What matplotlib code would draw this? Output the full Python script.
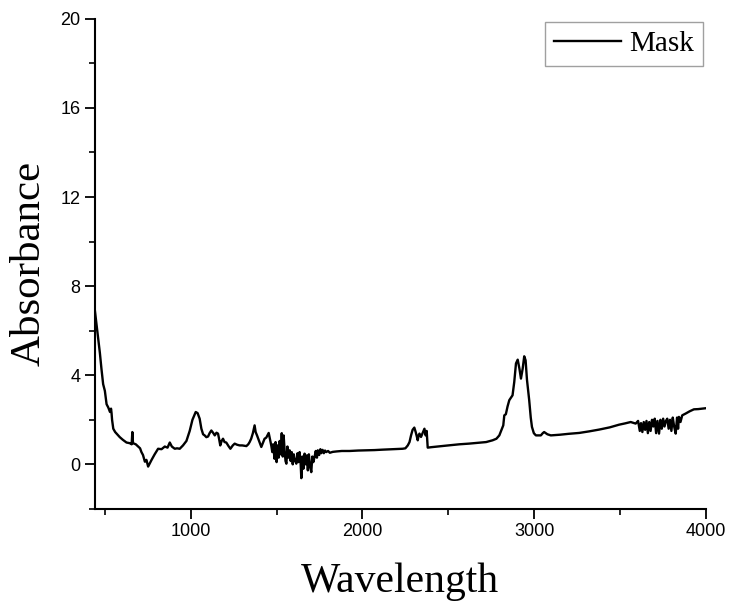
import matplotlib
matplotlib.use("Agg")
import matplotlib.pyplot as plt
from matplotlib.ticker import MultipleLocator

# Wavenumber (x) and absorbance (y)
wavelength = [
    442, 448, 455, 463, 471, 480, 490, 500, 510, 520, 530, 536, 539, 542, 549, 560,
    575, 587, 605, 626, 645, 656, 660, 664, 680, 694, 705, 713, 722, 733, 742, 752,
    762, 772, 790, 810, 830, 849, 865, 878, 890, 907, 920, 936, 955, 975, 994, 1010,
    1029, 1040, 1052, 1062, 1072, 1081, 1091, 1101, 1110, 1120, 1130, 1140, 1150, 1159,
    1165, 1172, 1180, 1188, 1197, 1207, 1220, 1231, 1245, 1256, 1270, 1285, 1300, 1324,
    1335, 1343, 1352, 1362, 1372, 1378, 1386, 1398, 1411, 1420, 1430, 1440, 1454, 1462,
    1469, 1475, 1480, 1488, 1494, 1500, 1506, 1512, 1518, 1524, 1530, 1536, 1541, 1547,
    1552, 1557, 1563, 1569, 1576, 1582, 1588, 1594, 1600, 1606, 1615, 1622, 1628, 1634,
    1640, 1644, 1650, 1656, 1663, 1670, 1676, 1682, 1688, 1694, 1702, 1708, 1714, 1721,
    1728, 1735, 1740, 1748, 1755, 1760, 1768, 1775, 1782, 1789, 1800, 1810, 1827, 1850,
    1880, 1925, 1975, 2022, 2070, 2118, 2180, 2234, 2250, 2264, 2274, 2283, 2292, 2302,
    2310, 2322, 2327, 2332, 2341, 2350, 2361, 2368, 2374, 2380, 2400, 2448, 2500, 2564,
    2620, 2680, 2720, 2758, 2780, 2797, 2810, 2820, 2826, 2835, 2845, 2855, 2865, 2874,
    2884, 2894, 2904, 2914, 2923, 2933, 2942, 2950, 2958, 2971, 2980, 2987, 2998, 3010,
    3039, 3050, 3058, 3068, 3077, 3097, 3150, 3200, 3262, 3320, 3378, 3440, 3494, 3530,
    3562, 3591, 3605, 3615, 3622, 3630, 3638, 3646, 3654, 3662, 3670, 3678, 3686, 3694,
    3702, 3710, 3718, 3727, 3735, 3743, 3751, 3759, 3767, 3775, 3783, 3791, 3799, 3807,
    3815, 3824, 3832, 3838, 3843, 3852, 3862, 3882, 3905, 3930, 3955, 3979, 4000,
]
absorbance = [
    6.9, 6.5, 6.0, 5.5, 5.0, 4.3, 3.6, 3.3, 2.7, 2.55, 2.35, 2.5, 2.3, 2.0, 1.6, 1.45,
    1.32, 1.22, 1.1, 0.98, 0.95, 0.9, 1.45, 0.95, 0.9, 0.8, 0.72, 0.55, 0.42, 0.12, 0.2, -0.1,
    0.05, 0.2, 0.45, 0.7, 0.68, 0.8, 0.75, 0.98, 0.8, 0.7, 0.72, 0.7, 0.85, 1.05, 1.5, 2.0,
    2.35, 2.3, 2.05, 1.6, 1.35, 1.3, 1.22, 1.25, 1.4, 1.52, 1.42, 1.3, 1.42, 1.38,
    1.15, 0.85, 1.05, 1.15, 1.0, 0.98, 0.82, 0.7, 0.85, 0.93, 0.88, 0.85, 0.85, 0.82,
    0.9, 1.0, 1.15, 1.4, 1.75, 1.45, 1.3, 1.05, 0.78, 0.95, 1.15, 1.2, 1.41, 1.1,
    0.85, 0.55, 0.9, 0.25, 1.0, 0.1, 0.85, 0.3, 1.05, 0.45, 1.4, 0.35, 1.3, 0.6,
    0.15, 0.03, 0.8, 0.3, 0.63, 0.15, 0.55, 0.0, 0.45, 0.2, 0.03, 0.5, 0.1, 0.55,
    0.05, -0.62, 0.35, -0.2, 0.48, 0.0, 0.4, -0.27, 0.45, -0.05, -0.35, 0.35, 0.1, 0.33,
    0.6, 0.3, 0.63, 0.42, 0.68, 0.5, 0.65, 0.5, 0.62, 0.55, 0.6, 0.52, 0.56, 0.58,
    0.6, 0.6, 0.62, 0.63, 0.64, 0.66, 0.68, 0.7, 0.72, 0.85, 1.0, 1.3, 1.55, 1.65,
    1.45, 1.08, 1.3, 1.38, 1.23, 1.4, 1.6, 1.3, 1.5, 0.75, 0.77, 0.81, 0.85, 0.9,
    0.93, 0.97, 1.0, 1.08, 1.15, 1.3, 1.55, 1.75, 2.2, 2.25, 2.6, 2.88, 3.0, 3.1,
    3.7, 4.53, 4.7, 4.3, 3.85, 4.3, 4.85, 4.67, 3.8, 2.88, 2.1, 1.68, 1.4, 1.3,
    1.3, 1.4, 1.45, 1.4, 1.35, 1.3, 1.33, 1.37, 1.41, 1.48, 1.56, 1.66, 1.78, 1.84,
    1.9, 1.83, 1.95, 1.5, 1.85, 1.45, 1.9, 1.55, 1.95, 1.4, 1.9, 1.5, 2.0, 1.7,
    2.05, 1.4, 1.95, 1.38, 2.0, 1.6, 2.05, 1.7, 1.95, 2.05, 1.6, 2.0, 1.5, 2.1,
    1.7, 1.38, 2.1, 1.6, 2.13, 1.9, 2.2, 2.28, 2.38, 2.47, 2.48, 2.5, 2.52,
]

x_ticks = [1000, 2000, 3000, 4000]
y_ticks = [0, 4, 8, 12, 16, 20]

fig = plt.figure(figsize=(7.3, 6.08), dpi=100)
ax = fig.add_axes([0.130, 0.163, 0.837, 0.806])

ax.plot(wavelength, absorbance, color="black", lw=1.7, label="Mask")

ax.set_xlim(442, 4000)
ax.set_ylim(-2, 20)
ax.set_xticks(x_ticks)
ax.set_yticks(y_ticks)
ax.xaxis.set_minor_locator(MultipleLocator(500))
ax.yaxis.set_minor_locator(MultipleLocator(2))

for s in ["top", "right"]:
    ax.spines[s].set_visible(False)
for s in ["left", "bottom"]:
    ax.spines[s].set_linewidth(1.5)

ax.tick_params(axis="both", which="major", direction="out", length=7, width=1.3,
               labelsize=13, colors="black")
ax.tick_params(axis="both", which="minor", direction="out", length=4, width=1.2)
for lab in ax.get_xticklabels() + ax.get_yticklabels():
    lab.set_family("Liberation Sans")

ax.set_xlabel("Wavelength", family="Liberation Serif", fontsize=30, labelpad=16)
ax.set_ylabel("Absorbance", family="Liberation Serif", fontsize=31, labelpad=8)

leg = ax.legend(loc="upper right", bbox_to_anchor=(1.0, 1.0), fancybox=False,
                prop={"family": "Liberation Serif", "size": 21}, handlelength=2.3,
                handletextpad=0.3, borderpad=0.3, borderaxespad=0.1, frameon=True)
leg.get_frame().set_edgecolor("#888888")
leg.get_frame().set_linewidth(1.0)

fig.savefig("out.png", dpi=100)
